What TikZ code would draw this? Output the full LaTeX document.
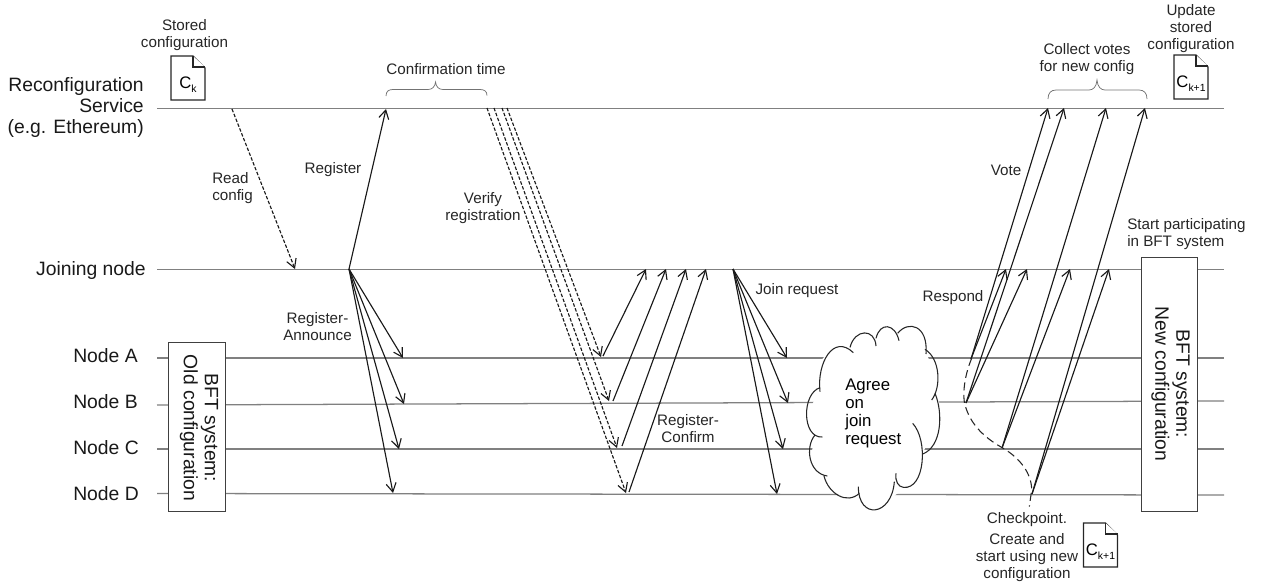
\documentclass[tikz,border=0pt]{standalone}
\usepackage{fontspec}
\setmainfont{Liberation Sans}
\usetikzlibrary{arrows.meta}
\newcommand{\ksub}[1]{\raisebox{-3pt}{\fontsize{7.8}{8}\selectfont #1}}
\newcommand{\docfile}[5]{% name, left x, top y, label x, label y ... label text via #5
  \draw[docline] (#2,#3) -- ++(22,0) -- ++(12,12) -- ++(0,32) -- ++(-34,0) -- cycle;
  \draw[docline] (#2+22,#3) -- ++(0,11) -- ++(12,0);
  \node[doclabel] (#1) at (#2+17,#3+28.5) {#5};
}
\tikzset{
  lifeline/.style={draw=black!50,line width=.95pt},
  msg/.style={draw=black!90,line width=.85pt,-{Straight Barb[length=6.5pt,width=7.5pt,line width=.85pt]}},
  dmsg/.style={msg,dash pattern=on 2.6pt off 1.3pt},
  small/.style={font=\fontsize{11.4}{12.6}\selectfont,align=center,inner sep=0pt,yshift=-1pt,text=black!85},
  big/.style={font=\fontsize{14.5}{15.8}\selectfont,inner sep=0pt,text=black!90},
  boxed/.style={draw=black!75,line width=1pt,fill=white},
  docline/.style={draw=black!85,line width=.85pt,fill=white},
  doclabel/.style={font=\fontsize{12.5}{13}\selectfont,inner sep=0pt},
  bracel/.style={draw=black!55,line width=.55pt},
  cloudl/.style={draw=black!85,line width=.8pt},
  ckpt/.style={draw=black!85,line width=.8pt,dash pattern=on 6pt off 3.4pt}
}
\begin{document}
\begin{tikzpicture}[x=.75pt,y=-.75pt]
\useasboundingbox (0,0) rectangle (1261,586);
% lifeline ends
\coordinate (rl) at (157,108.5); \coordinate (rr) at (1224,108.5);
\coordinate (jl) at (157,269.5); \coordinate (jr) at (1224,269.5);
\coordinate (al) at (157,358);   \coordinate (ar) at (1224,358);
\coordinate (bl) at (157,405);   \coordinate (br) at (1224,401);
\coordinate (cl) at (157,449);   \coordinate (cr) at (1224,449);
\coordinate (dl) at (157,493.5); \coordinate (dr) at (1224,495);
\foreach \p/\q in {rl/rr,jl/jr,al/ar,bl/br,cl/cr,dl/dr}{\draw[lifeline] (\p) -- (\q);}
% message end points
\coordinate (read0) at (232,109);  \coordinate (read1) at (295,269);
\coordinate (reg0) at (349,269);   \coordinate (reg1) at (386,109);
\coordinate (annA) at (403,358); \coordinate (annB) at (404,404);
\coordinate (annC) at (399,449); \coordinate (annD) at (393,493);
\coordinate (vs1) at (507,108); \coordinate (vs2) at (502,108);
\coordinate (vs3) at (494,108); \coordinate (vs4) at (487,108);
\coordinate (ve1) at (601,357); \coordinate (ve2) at (609,401);
\coordinate (ve3) at (617,448); \coordinate (ve4) at (626,493);
\coordinate (cs1) at (603,356); \coordinate (cs2) at (613,401);
\coordinate (cs3) at (622,446); \coordinate (cs4) at (629,492);
\coordinate (ce1) at (646,269); \coordinate (ce2) at (666,269);
\coordinate (ce3) at (686,269); \coordinate (ce4) at (706,269);
\coordinate (js) at (733,269);
\coordinate (jA) at (787,358); \coordinate (jB) at (788,403);
\coordinate (jC) at (783,449); \coordinate (jD) at (777,494);
\coordinate (ptA) at (971,359); \coordinate (ptB) at (966,403);
\coordinate (ptC) at (1002,448); \coordinate (ptD) at (1032,494);
\coordinate (vA) at (1048,108); \coordinate (vB) at (1064,108);
\coordinate (vC) at (1106,108); \coordinate (vD) at (1145,108);
\coordinate (rA) at (1006,269); \coordinate (rB) at (1027,269);
\coordinate (rC) at (1070,269); \coordinate (rD) at (1109,269);
% boxes
\node[boxed,minimum width=42.6pt,minimum height=127pt,inner sep=0pt] (oldbox) at (197,427) {};
\node[boxed,minimum width=42pt,minimum height=190.5pt,inner sep=0pt] (newbox) at (1169.3,384.7) {};
\node[big,rotate=-90,align=center] (oldtxt) at (199,428) {BFT system:\\Old configuration};
\node[big,rotate=-90,align=center] (newtxt) at (1170.5,384) {BFT system:\\New configuration};
% arrows
\draw[dmsg] (read0) -- (read1);
\draw[msg] (reg0) -- (reg1);
\foreach \t in {annA,annB,annC,annD}{\draw[msg] (reg0) -- (\t);}
\foreach \i in {1,2,3,4}{\draw[dmsg] (vs\i) -- (ve\i);\draw[msg] (cs\i) -- (ce\i);}
\foreach \t in {jA,jB,jC,jD}{\draw[msg] (js) -- (\t);}
\foreach \i in {A,B,C,D}{\draw[msg] (pt\i) -- (v\i);\draw[msg] (pt\i) -- (r\i);}
% checkpoint curve
\begin{scope}[shift={(800,290)},x=.25pt,y=-.25pt]
\draw[ckpt] (515,205) .. controls (490,265) and (485,330) .. (500,360)
  .. controls (520,415) and (565,450) .. (610,475)
  .. controls (660,505) and (695,550) .. (695,600) -- (688,650);
% cloud
\fill[white] (60,300) -- (65,210) -- (110,155) -- (190,125) -- (262,110) -- (335,110) -- (378,190) -- (412,260) -- (420,380) -- (368,490) -- (320,590) -- (225,660) -- (130,630) -- (75,570) -- (30,510) -- (45,440) -- (22,370) -- cycle;
\draw[cloudl] (60,305) .. controls (50,220) and (100,130) .. (160,188);
\draw[cloudl] (150,172) .. controls (165,115) and (225,115) .. (228,168);
\draw[cloudl] (228,145) .. controls (240,95) and (285,100) .. (297,152);
\draw[cloudl] (293,130) .. controls (325,90) and (385,105) .. (378,192);
\draw[cloudl] (375,178) .. controls (420,205) and (425,290) .. (395,330);
\draw[cloudl] (405,310) .. controls (430,370) and (425,470) .. (368,492);
\draw[cloudl] (338,400) .. controls (385,450) and (375,600) .. (310,592) .. controls (295,590) and (285,575) .. (288,550);
\draw[cloudl] (283,575) .. controls (275,680) and (175,690) .. (175,590);
\draw[cloudl] (178,610) .. controls (140,645) and (85,610) .. (72,558);
\draw[cloudl] (82,558) .. controls (25,550) and (15,470) .. (45,435);
\draw[cloudl] (67,441) .. controls (5,445) and (5,310) .. (60,293);
\end{scope}
% braces
\draw[bracel] (386,96) .. controls (386,91) and (389,89.5) .. (393,89.5) -- (428,89.5) .. controls (432,89.5) and (435,87) .. (435.5,82) .. controls (436,87) and (439,89.5) .. (443,89.5) -- (480,89.5) .. controls (484,89.5) and (487,91) .. (487,95.5);
\draw[bracel] (1048,99) .. controls (1048,93) and (1051,90) .. (1056,90) -- (1089,90) .. controls (1093,90) and (1096.5,87) .. (1097,80) .. controls (1097.5,87) and (1101,90) .. (1105,90) -- (1139,90) .. controls (1144,90) and (1147,93) .. (1147,99);
% documents
\docfile{dk}{171}{56}{}{C\ksub{k}}
\docfile{dk1}{1174}{55}{}{C\ksub{k+1}}
\docfile{dk2}{1083.5}{523}{}{C\ksub{k+1}}
% labels
\node[small] (stored) at (184.5,33.5) {Stored\\configuration};
\node[big,anchor=east,align=right] (recon) at (144,107.5) {Reconfiguration\\Service\\(e.g. Ethereum)};
\node[big,anchor=east] (joining) at (146,270) {Joining node};
\node[big,anchor=west] (na) at (73,356) {Node A};
\node[big,anchor=west] (nb) at (73,402) {Node B};
\node[big,anchor=west] (nc) at (73,448) {Node C};
\node[big,anchor=west] (nd) at (73,494) {Node D};
\node[small,anchor=west,align=left] (readl) at (212,187) {Read\\config};
\node[small] (regl) at (333,168) {Register};
\node[small] (annl) at (317.5,325) {Register-\\Announce};
\node[small] (conft) at (446,67.5) {Confirmation time};
\node[small] (verl) at (483,207) {Verify\\registration};
\node[small] (rcl) at (688,427) {Register-\\Confirm};
\node[small] (jrl) at (797,289) {Join request};
\node[font=\fontsize{12.6}{13.5}\selectfont,anchor=west,align=left,inner sep=0pt] (agree) at (845,413) {Agree\\on\\join\\request};
\node[small] (resp) at (953,296) {Respond};
\node[small] (vote) at (1006,169) {Vote};
\node[small] (coll) at (1087,57.5) {Collect votes\\for new config};
\node[small] (upd) at (1191,27) {Update\\stored\\configuration};
\node[small,anchor=west,align=left] (start) at (1127,233) {Start participating\\in BFT system};
\node[small] (chk) at (1027,518) {Checkpoint.};
\node[small] (crt) at (1027,556.5) {Create and\\start using new\\configuration};
\end{tikzpicture}
\end{document}
